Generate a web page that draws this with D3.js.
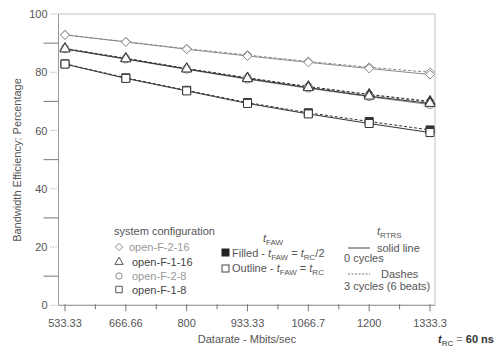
<!DOCTYPE html>
<html>
<head>
<meta charset="utf-8">
<script src="https://cdn.jsdelivr.net/npm/d3@7"></script>
<style>
  body { margin: 0; background: #fff; }
  svg { font-family: "Liberation Sans", Arial, sans-serif; }
</style>
</head>
<body>
<svg width="494" height="348"></svg>
<script>
var categories = ['533.33', '666.66', '800', '933.33', '1066.7', '1200', '1333.3'];
var yTicks = [0, 20, 40, 60, 80, 100];
var yMinorTicks = [10, 30, 50, 70, 90];

// filled = tFAW = tRC/2, outline = tFAW = tRC
var f216Filled  = [92.9, 90.5, 88.1, 85.9, 83.7, 81.7, 80.0];
var f216Outline = [92.8, 90.4, 87.9, 85.6, 83.4, 81.3, 79.2];
var f116Filled  = [88.2, 84.8, 81.3, 78.1, 75.1, 72.4, 70.0];
var f116Outline = [88.0, 84.6, 81.1, 77.8, 74.7, 71.8, 69.3];
var f28Filled   = [88.1, 84.7, 81.2, 78.0, 75.0, 72.2, 69.7];
var f28Outline  = [88.0, 84.5, 81.0, 77.6, 74.5, 71.6, 68.9];
var f18Filled   = [82.9, 78.1, 73.8, 69.6, 66.1, 63.1, 60.2];
var f18Outline  = [82.8, 77.9, 73.6, 69.3, 65.7, 62.4, 59.3];

var GRAY = '#8a8a8a';
var DARK = '#333';
var TEXT = '#555';

// filled series first so the outline markers sit on top of them
var series = [
  { values: f216Filled, shape: 'diamond', color: GRAY, filled: false, dash: '3,2' },
  { values: f28Filled, shape: 'circle', color: GRAY, filled: true, dash: '3,2' },
  { values: f116Filled, shape: 'triangle', color: DARK, filled: true, dash: '3,2' },
  { values: f18Filled, shape: 'square', color: DARK, filled: true, dash: '3,2' },
  { values: f216Outline, shape: 'diamond', color: GRAY, filled: false, dash: null },
  { values: f28Outline, shape: 'circle', color: GRAY, filled: false, dash: null },
  { values: f116Outline, shape: 'triangle', color: DARK, filled: false, dash: null },
  { values: f18Outline, shape: 'square', color: DARK, filled: false, dash: null }
];

var svg = d3.select('svg');
var plotLeft = 58.5, plotRight = 435, plotTop = 14, plotBottom = 305.3;

var x = d3.scalePoint().domain(categories).range([65, 430]);
var y = d3.scaleLinear().domain([0, 100]).range([plotBottom, plotTop]);

// frame
svg.append('rect')
  .attr('x', plotLeft).attr('y', plotTop)
  .attr('width', plotRight - plotLeft).attr('height', plotBottom - plotTop)
  .style('fill', 'none').style('stroke', '#c4c4c4').style('stroke-width', 1);
svg.append('line')
  .attr('x1', plotLeft).attr('x2', plotLeft).attr('y1', plotTop).attr('y2', plotBottom)
  .style('stroke', '#999');
svg.append('line')
  .attr('x1', plotLeft).attr('x2', plotRight).attr('y1', plotBottom).attr('y2', plotBottom)
  .style('stroke', '#999');

// y axis
yTicks.forEach(function (t) {
  svg.append('line')
    .attr('x1', plotLeft - 8).attr('x2', plotLeft - 2)
    .attr('y1', y(t)).attr('y2', y(t))
    .style('stroke', '#999').style('stroke-dasharray', '1,1.5');
  svg.append('text')
    .attr('x', plotLeft - 11).attr('y', y(t) + 4)
    .attr('text-anchor', 'end')
    .style('font-size', '11px').style('fill', TEXT)
    .text(t);
});
yMinorTicks.forEach(function (t) {
  svg.append('line')
    .attr('x1', plotLeft - 15).attr('x2', plotLeft)
    .attr('y1', y(t)).attr('y2', y(t))
    .style('stroke', '#777');
});

// x axis
var step = x.step();
categories.forEach(function (c, i) {
  svg.append('line')
    .attr('x1', x(c)).attr('x2', x(c))
    .attr('y1', plotBottom - 1).attr('y2', plotBottom + 6)
    .style('stroke', '#777');
  if (i < categories.length - 1) {
    svg.append('line')
      .attr('x1', x(c) + step / 2).attr('x2', x(c) + step / 2)
      .attr('y1', plotBottom - 1).attr('y2', plotBottom + 4)
      .style('stroke', '#777');
  }
  svg.append('text')
    .attr('x', x(c)).attr('y', plotBottom + 22)
    .attr('text-anchor', 'middle')
    .style('font-size', '11px').style('fill', TEXT)
    .text(c);
});

svg.append('text')
  .attr('x', 247).attr('y', 343)
  .attr('text-anchor', 'middle')
  .style('font-size', '11px').style('fill', TEXT)
  .text('Datarate - Mbits/sec');

svg.append('text')
  .attr('transform', 'translate(21,160) rotate(-90)')
  .attr('text-anchor', 'middle')
  .style('font-size', '11px').style('fill', TEXT)
  .text('Bandwidth Efficiency: Percentage');

// t_RC = 60 ns
var trc = svg.append('text')
  .attr('x', 438).attr('y', 343)
  .style('font-size', '11px').style('fill', '#333');
trc.append('tspan').style('font-style', 'italic').style('font-weight', 'bold').text('t');
trc.append('tspan').attr('dy', 3).style('font-size', '8px').text('RC');
trc.append('tspan').attr('dy', -3).style('fill', '#888').text(' = ');
trc.append('tspan').style('font-weight', 'bold').text('60 ns');

// lines
var line = d3.line()
  .x(function (d, i) { return x(categories[i]); })
  .y(function (d) { return y(d); });

series.forEach(function (s) {
  svg.append('path')
    .datum(s.values)
    .attr('d', line)
    .style('fill', 'none')
    .style('stroke', s.color)
    .style('stroke-width', 1)
    .style('stroke-dasharray', s.dash);
});

function marker(g, shape, cx, cy, color, filled, size) {
  var sym = { diamond: d3.symbolDiamond2, circle: d3.symbolCircle, triangle: d3.symbolTriangle, square: d3.symbolSquare }[shape];
  var area = { diamond: size * size * 0.8, circle: size * size * 0.75, triangle: size * size * 0.7, square: size * size }[shape];
  g.append('path')
    .attr('d', d3.symbol().type(sym).size(area)())
    .attr('transform', 'translate(' + cx + ',' + cy + ')')
    .style('fill', filled ? color : '#fff')
    .style('stroke', color)
    .style('stroke-width', 1);
}

series.forEach(function (s) {
  s.values.forEach(function (v, i) {
    var filled = s.filled && i >= 4;
    marker(svg, s.shape, x(categories[i]), y(v), s.color, filled, 8);
  });
});

// legend: system configuration
svg.append('text')
  .attr('x', 114).attr('y', 235)
  .style('font-size', '11px').style('fill', TEXT)
  .text('system configuration');

var legendItems = [
  { name: 'open-F-2-16', shape: 'diamond', color: GRAY, y: 247, tx: 129 },
  { name: 'open-F-1-16', shape: 'triangle', color: '#555', y: 262, tx: 132 },
  { name: 'open-F-2-8', shape: 'circle', color: GRAY, y: 276, tx: 132 },
  { name: 'open-F-1-8', shape: 'square', color: '#555', y: 289.5, tx: 132 }
];
legendItems.forEach(function (d) {
  marker(svg, d.shape, 119, d.y, d.color, false, 6.5);
  svg.append('text')
    .attr('x', d.tx).attr('y', d.y + 4)
    .style('font-size', '11px')
    .style('fill', d.color === GRAY ? '#999' : '#444')
    .text(d.name);
});

// legend: tFAW
function tSub(g, xx, yy, sub) {
  var t = g.append('text')
    .attr('x', xx).attr('y', yy)
    .style('font-size', '11px').style('fill', TEXT);
  t.append('tspan').style('font-style', 'italic').text('t');
  t.append('tspan').attr('dy', 3).style('font-size', '8px').text(sub);
  return t;
}
tSub(svg, 263, 242, 'FAW');

svg.append('rect').attr('x', 222).attr('y', 249).attr('width', 7).attr('height', 7)
  .style('fill', '#222').style('stroke', '#222');
var t1 = svg.append('text').attr('x', 232).attr('y', 257)
  .style('font-size', '11px').style('fill', TEXT);
t1.append('tspan').text('Filled - ');
t1.append('tspan').style('font-style', 'italic').text('t');
t1.append('tspan').attr('dy', 3).style('font-size', '8px').text('FAW');
t1.append('tspan').attr('dy', -3).text(' = ');
t1.append('tspan').style('font-style', 'italic').text('t');
t1.append('tspan').attr('dy', 3).style('font-size', '8px').text('RC');
t1.append('tspan').attr('dy', -3).text('/2');

svg.append('rect').attr('x', 222).attr('y', 265).attr('width', 7).attr('height', 7)
  .style('fill', '#fff').style('stroke', '#444');
var t2 = svg.append('text').attr('x', 232).attr('y', 272)
  .style('font-size', '11px').style('fill', TEXT);
t2.append('tspan').text('Outline - ');
t2.append('tspan').style('font-style', 'italic').text('t');
t2.append('tspan').attr('dy', 3).style('font-size', '8px').text('FAW');
t2.append('tspan').attr('dy', -3).text(' = ');
t2.append('tspan').style('font-style', 'italic').text('t');
t2.append('tspan').attr('dy', 3).style('font-size', '8px').text('RC');

// legend: tRTRS
tSub(svg, 377, 235, 'RTRS');
svg.append('line').attr('x1', 348).attr('x2', 370).attr('y1', 248).attr('y2', 248)
  .style('stroke', '#444');
svg.append('text').attr('x', 377).attr('y', 252)
  .style('font-size', '11px').style('fill', TEXT).text('solid line');
svg.append('text').attr('x', 344).attr('y', 262)
  .style('font-size', '11px').style('fill', TEXT).text('0 cycles');
svg.append('line').attr('x1', 348).attr('x2', 370).attr('y1', 274).attr('y2', 274)
  .style('stroke', '#777').style('stroke-dasharray', '2,1.5');
svg.append('text').attr('x', 381).attr('y', 278)
  .style('font-size', '11px').style('fill', TEXT).text('Dashes');
svg.append('text').attr('x', 344).attr('y', 290)
  .style('font-size', '11px').style('fill', TEXT).text('3 cycles (6 beats)');
</script>
</body>
</html>
